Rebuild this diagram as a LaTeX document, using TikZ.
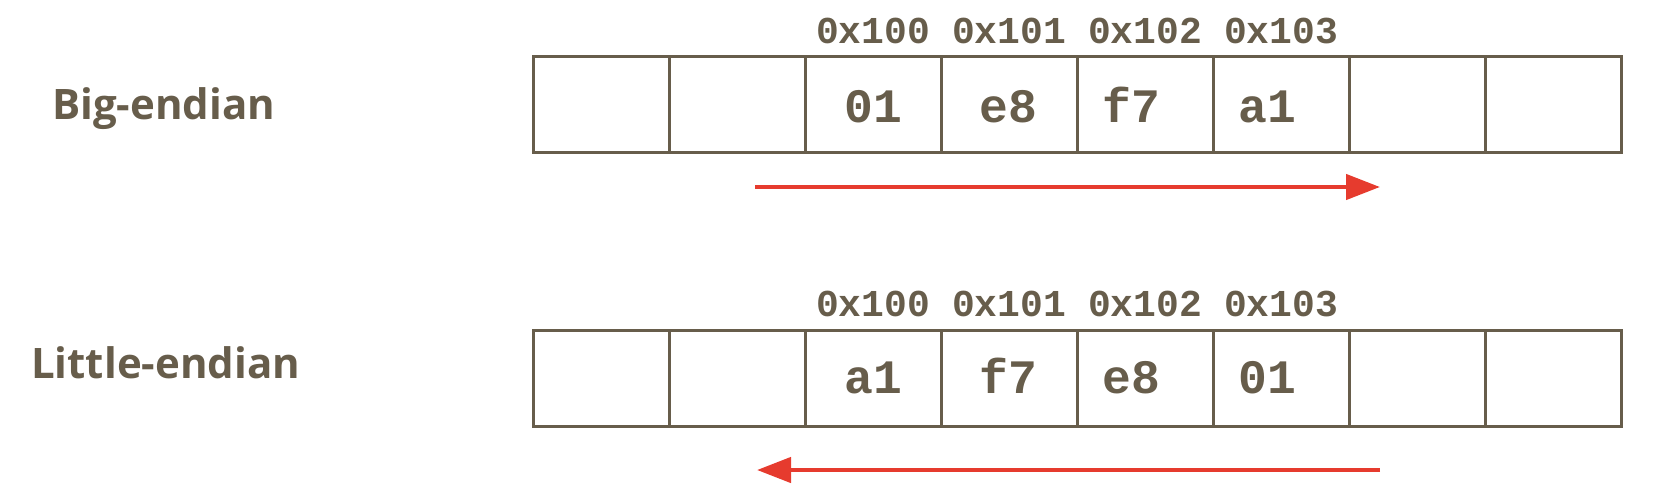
\documentclass[tikz,border=0pt]{standalone}
\usepackage{fontspec}
\setmainfont{Open Sans}
\newfontfamily\monof{Liberation Mono}
\usetikzlibrary{arrows.meta}
\definecolor{ink}{HTML}{675D4B}
\definecolor{redarrow}{HTML}{E63B2E}
\begin{document}
\begin{tikzpicture}[x=1pt,y=-1pt,
  cell/.style={draw=ink,line width=3pt,minimum width=136pt,minimum height=95.5pt,inner sep=0pt,outer sep=0pt},
  rowlabel/.style={anchor=base west,inner sep=0pt,text=ink,font=\fontsize{42}{50}\selectfont\bfseries},
  addr/.style={anchor=base,inner sep=0pt,text=ink,font=\fontsize{38}{44}\selectfont\monof\bfseries},
  val/.style={anchor=base,inner sep=0pt,text=ink,font=\fontsize{48}{56}\selectfont\monof\bfseries},
  flow/.style={draw=redarrow,line width=4.5pt,-{Triangle[length=34pt,width=25pt]}}]
\useasboundingbox (0,0) rectangle (1670,498);
% row labels
\node[rowlabel] (big) at (52,119) {Big-endian};
\node[rowlabel] (little) at (31,378) {Little-endian};
% cells
\foreach \i in {0,...,7} {
  \node[cell] (a\i) at ({601+136*\i},104.3) {};
  \node[cell] (b\i) at ({601+136*\i},378.6) {};
}
% addresses
\foreach \t [count=\k from 2] in {0x100,0x101,0x102,0x103} {
  \node[addr] (ta\k) at ({601+136*\k},43) {\t};
  \node[addr] (tb\k) at ({601+136*\k},316.5) {\t};
}
% values
\node[val] (va2) at (873,122) {01};
\node[val] (va3) at (1008,122) {e8};
\node[val] (va4) at (1131.5,122) {f7};
\node[val] (va5) at (1267,122) {a1};
\node[val] (vb2) at (873,393) {a1};
\node[val] (vb3) at (1008,393) {f7};
\node[val] (vb4) at (1131.5,393) {e8};
\node[val] (vb5) at (1267,393) {01};
% arrows
\coordinate (s1) at (755,187);
\coordinate (e1) at (1380,187);
\coordinate (s2) at (1380,470);
\coordinate (e2) at (757,470);
\draw[flow] (s1) -- (e1);
\draw[flow] (s2) -- (e2);
\end{tikzpicture}
\end{document}
